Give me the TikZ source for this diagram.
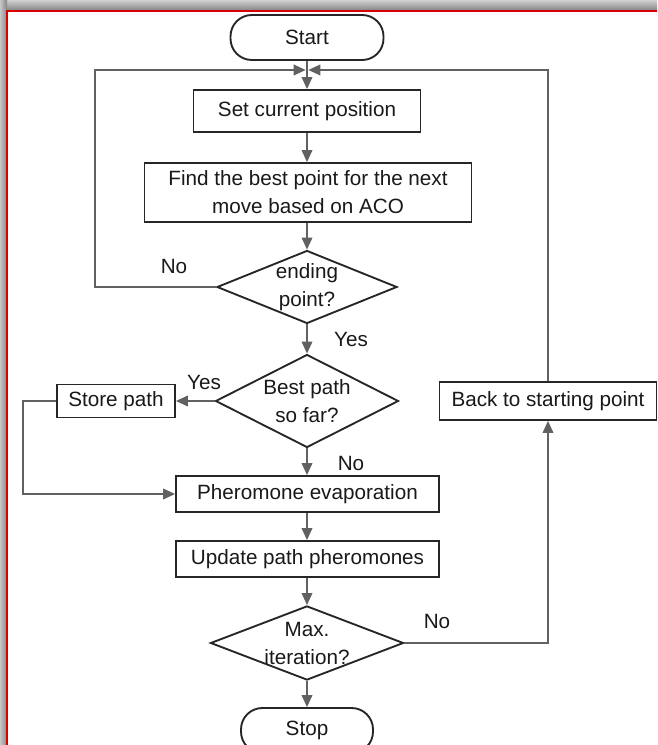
\documentclass[tikz,border=0pt]{standalone}
\usepackage{fontspec}
\setmainfont{Liberation Sans}
\usetikzlibrary{shapes.geometric,arrows.meta}
\tikzset{
  box/.style={draw=black!85, line width=1.4pt, align=center, inner sep=2pt},
  term/.style={box, rounded corners=16pt, minimum height=33.75pt},
  decision/.style={draw=black!85, line width=1.4pt, diamond, align=center, inner sep=-10pt},
  arrow/.style={draw=black!62, line width=1.1pt, -{Triangle[width=8pt,length=9pt]}},
  lbl/.style={inner sep=1pt, text=black!90},
  frame/.style={draw=red!85!black, line width=2pt}
}

\begin{document}
\begin{tikzpicture}[x=0.75pt,y=-0.75pt, font=\fontsize{15.5}{21}\selectfont, text=black!90]

	\useasboundingbox (0,0) rectangle (657,745);
	% frame round the figure
	\shade[top color=black!18, bottom color=black!50] (0,0) rectangle (657,11);
	\shade[left color=black!22, right color=black!48] (0,0) rectangle (7,745);
	\fill[white] (7,11) rectangle (657,745);
	\draw[frame] (7,745) -- (7,11) -- (657,11);

	\node (start)[term, minimum width=114.75pt] at (307,37.5) {Start};
	\node (set)[box, minimum width=170.25pt, minimum height=31.5pt] at (307,111) {Set current position};
	\node (find)[box, minimum width=245.25pt, minimum height=44.25pt] at (308,192.5) {Find the best point for the next\\move based on ACO};
	\node (end)[decision, minimum width=135pt, minimum height=54.75pt] at (307,287) {ending\\point?};
	\node (best)[decision, minimum width=137.25pt, minimum height=69.75pt] at (307,401) {Best path\\so far?};
	\node (store)[box, minimum width=88.5pt, minimum height=24.75pt] at (116,401) {Store path};
	\node (back)[box, minimum width=162.75pt, minimum height=28.5pt] at (548,401) {Back to starting point};
	\node (pher)[box, minimum width=197.25pt, minimum height=27pt] at (307.5,494) {Pheromone evaporation};
	\node (upd)[box, minimum width=197.25pt, minimum height=27pt] at (307.5,559) {Update path pheromones};
	\node (max)[decision, minimum width=144.75pt, minimum height=55.5pt] at (307,643) {Max.\\iteration?};
	\node (stop)[term, minimum width=99pt] at (307,730.5) {Stop};

	\node (noA)[lbl] at (174,266) {No};
	\node (yesA)[lbl] at (351,339) {Yes};
	\node (yesB)[lbl] at (204,382) {Yes};
	\node (noB)[lbl] at (351,463) {No};
	\node (noC)[lbl] at (437,621) {No};

	\coordinate (join) at (307,70);
	\coordinate (loopL) at (95,70);
	\coordinate (loopS) at (23,450);

	\draw [arrow] (start) to (set);
	\draw [arrow] (set) to (set.south |- find.north);
	\draw [arrow] (set.south |- find.south) to (end);
	\draw [arrow] (end) to (best);
	\draw [arrow] (best) to (best.south |- pher.north);
	\draw [arrow] (best.south |- pher.south) to (best.south |- upd.north);
	\draw [arrow] (best.south |- upd.south) to (max);
	\draw [arrow] (max) to (stop);
	\draw [arrow] (best) to (store);
	\draw [arrow] (store.west) -| (loopS) |- (pher.west);
	\draw [arrow] (end.west) -| (loopL) -- ([xshift=-1pt]join);
	\draw [arrow] (back.north) |- ([xshift=1pt]join);
	\draw [arrow] (max.east) -| (back.south);

\end{tikzpicture}
\end{document}
